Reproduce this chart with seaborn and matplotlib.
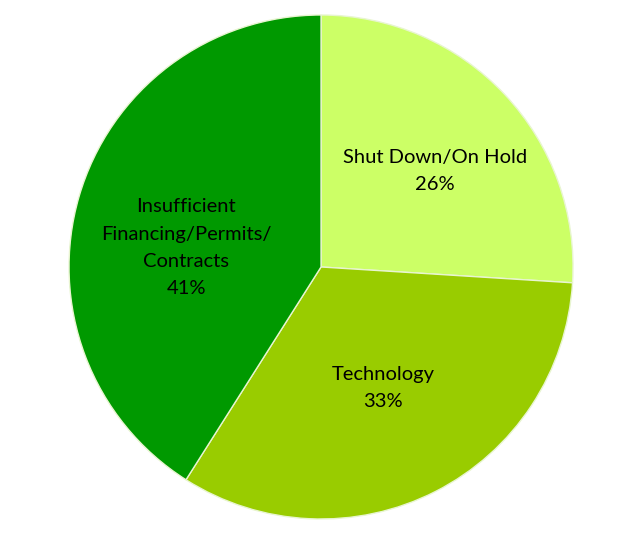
import matplotlib
matplotlib.use("Agg")
import matplotlib.pyplot as plt
import seaborn as sns
import numpy as np

# Data
categories = ["Shut Down/On Hold", "Technology", "Insufficient\nFinancing/Permits/\nContracts"]
shares = [26, 33, 41]
colors = ["#CCFF66", "#99CC00", "#009900"]

sns.set_style("white")
plt.rcParams['font.family'] = ['Lato', 'DejaVu Sans']

fig = plt.figure(figsize=(6.35, 5.41), dpi=100)
ax = fig.add_axes([0.1087, 0.0407, 0.7937, 0.9316])

wedges, texts = ax.pie(shares, colors=colors, startangle=90, counterclock=False,
                       radius=1, wedgeprops=dict(edgecolor="#E8F5D0", linewidth=1))

# labels placed inside each wedge (small nudges to sit like the original)
nudge = [-3, 0, 8]
label_r = [0.59, 0.54, 0.54]
for w, cat, val, dn, r in zip(wedges, categories, shares, nudge, label_r):
    mid = np.deg2rad((w.theta1 + w.theta2) / 2 + dn)
    ax.text(r * np.cos(mid), r * np.sin(mid), f"{cat}\n{val}%", ha="center", va="center",
            fontsize=14.5, color="black", linespacing=1.72)

ax.set_xlim(-1, 1)
ax.set_ylim(-1, 1)
ax.set_aspect("equal")
ax.axis("off")

plt.savefig("out.png", dpi=100)
